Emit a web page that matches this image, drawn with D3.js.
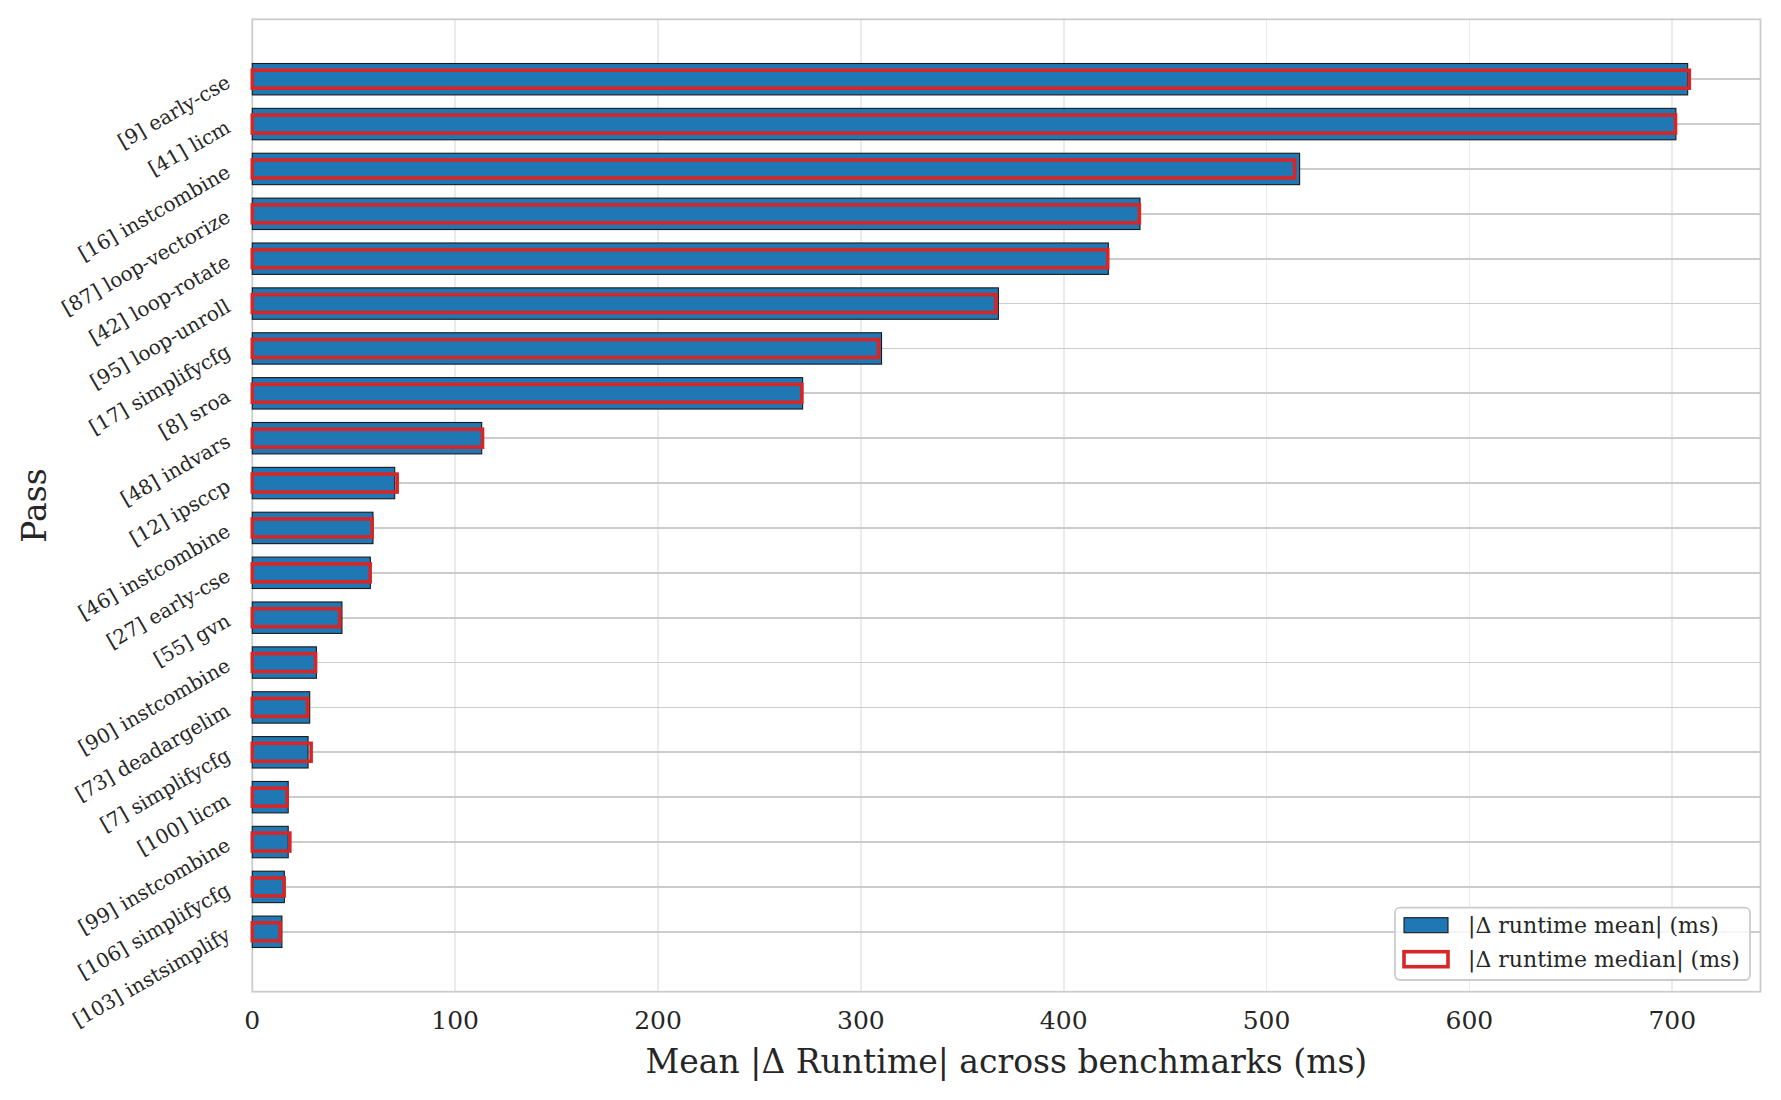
<!DOCTYPE html>
<html>
<head>
<meta charset="utf-8">
<script src="https://cdn.jsdelivr.net/npm/d3@7"></script>
<style>
  body { margin: 0; background: #fff; }
  svg { display: block; font-family: "DejaVu Serif", serif; }
  .grid line { shape-rendering: crispEdges; }
  text { fill: #262626; }
</style>
</head>
<body>
<svg width="1781" height="1100"></svg>
<script>
var passes = ["[9] early-cse", "[41] licm", "[16] instcombine", "[87] loop-vectorize", "[42] loop-rotate",
    "[95] loop-unroll", "[17] simplifycfg", "[8] sroa", "[48] indvars", "[12] ipsccp",
    "[46] instcombine", "[27] early-cse", "[55] gvn", "[90] instcombine", "[73] deadargelim",
    "[7] simplifycfg", "[100] licm", "[99] instcombine", "[106] simplifycfg", "[103] instsimplify"];
var meanMs = [707.6, 701.8, 516.3, 437.6, 422.0, 367.8, 310.2, 271.3, 113.1, 70.2,
    59.5, 58.2, 44.2, 31.6, 28.3, 27.5, 17.7, 17.7, 15.8, 14.6];
var medianMs = [708.4, 701.6, 513.8, 437.3, 421.7, 366.5, 308.7, 270.9, 113.5, 71.4,
    59.1, 58.1, 43.1, 31.2, 27.2, 29.0, 17.2, 18.5, 15.7, 13.7];
var xTicks = [0, 100, 200, 300, 400, 500, 600, 700];
var legendLabels = ["|\u0394 runtime mean| (ms)", "|\u0394 runtime median| (ms)"];

var BLUE = "#1f77b4", RED = "#d62728";

(function() {
    var canvas = getCanvas();
    var axes = getAxes(canvas);
    addGrid(canvas, axes);
    addBars(canvas, axes);
    addAxisText(canvas, axes);
    addLegend(canvas);
})();

function getCanvas() {
    var margin = {top: 19.3, right: 20.5, bottom: 108.3, left: 252.3};
    var svg = d3.select("svg");
    var g = svg.append("g").attr("transform", "translate(" + margin.left + "," + margin.top + ")");
    g.width = 1781 - margin.left - margin.right;
    g.height = 1100 - margin.top - margin.bottom;
    return g;
}

function getAxes(canvas) {
    return {
        x: d3.scaleLinear().domain([0, 743.5]).range([0, canvas.width]),
        y: d3.scaleBand().domain(passes).range([0, canvas.height]).paddingInner(0.3).paddingOuter(0.985)
    };
}

function addGrid(canvas, axes) {
    canvas.append("g").attr("class", "grid")
        .selectAll("line").data(xTicks.slice(1)).enter().append("line")
        .attr("x1", function(d) { return axes.x(d); }).attr("x2", function(d) { return axes.x(d); })
        .attr("y1", 0).attr("y2", canvas.height)
        .style("stroke", "#ebebeb").style("stroke-width", 1.6);

    canvas.append("g").attr("class", "grid")
        .selectAll("line").data(passes).enter().append("line")
        .attr("x1", 0).attr("x2", canvas.width)
        .attr("y1", function(d) { return axes.y(d) + axes.y.bandwidth() / 2; })
        .attr("y2", function(d) { return axes.y(d) + axes.y.bandwidth() / 2; })
        .style("stroke", "#cccccc").style("stroke-width", 1.8);

    canvas.append("rect")
        .attr("x", 0).attr("y", 0).attr("width", canvas.width).attr("height", canvas.height)
        .style("fill", "none").style("stroke", "#cccccc").style("stroke-width", 1.8);
}

function addBars(canvas, axes) {
    var step = axes.y.step();
    var redH = step * 0.4;
    var bw = axes.y.bandwidth();

    canvas.append("g").selectAll("rect").data(passes).enter().append("rect")
        .attr("x", axes.x(0))
        .attr("y", function(d) { return axes.y(d); })
        .attr("width", function(d, i) { return axes.x(meanMs[i]) - axes.x(0); })
        .attr("height", bw)
        .style("fill", BLUE).style("stroke", "#1a1a1a").style("stroke-width", 1.1);

    canvas.append("g").selectAll("rect").data(passes).enter().append("rect")
        .attr("x", axes.x(0))
        .attr("y", function(d) { return axes.y(d) + bw / 2 - redH / 2; })
        .attr("width", function(d, i) { return axes.x(medianMs[i]) - axes.x(0); })
        .attr("height", redH)
        .style("fill", "none").style("stroke", RED).style("stroke-width", 3.6);
}

function addAxisText(canvas, axes) {
    canvas.append("g").selectAll("text").data(xTicks).enter().append("text")
        .attr("x", function(d) { return axes.x(d); })
        .attr("y", canvas.height + 37)
        .style("text-anchor", "middle")
        .style("font-size", "25px")
        .text(function(d) { return d; });

    canvas.append("g").selectAll("text").data(passes).enter().append("text")
        .attr("transform", function(d) {
            return "translate(-24," + (axes.y(d) + axes.y.bandwidth() / 2 + 1) + ") rotate(-30)";
        })
        .style("text-anchor", "end")
        .style("dominant-baseline", "central")
        .style("font-size", "20px")
        .text(function(d) { return d; });

    canvas.append("text")
        .attr("x", canvas.width / 2)
        .attr("y", canvas.height + 81.5)
        .style("text-anchor", "middle")
        .style("font-size", "33px")
        .text("Mean |\u0394 Runtime| across benchmarks (ms)");

    canvas.append("text")
        .attr("transform", "translate(-206," + (canvas.height / 2) + ") rotate(-90)")
        .style("text-anchor", "middle")
        .style("font-size", "33px")
        .text("Pass");
}

function addLegend(canvas) {
    var lg = canvas.append("g").attr("transform", "translate(" + (1395 - 252.3) + "," + (907.7 - 19.3) + ")");
    lg.append("rect")
        .attr("width", 355).attr("height", 72.3).attr("rx", 5)
        .style("fill", "#fff").style("fill-opacity", 0.8)
        .style("stroke", "#cccccc").style("stroke-width", 1.8);

    var rows = lg.selectAll("g.item").data(legendLabels).enter().append("g").attr("class", "item")
        .attr("transform", function(d, i) { return "translate(0," + (17.5 + i * 34) + ")"; });
    rows.append("rect")
        .attr("x", 9).attr("y", -7.5).attr("width", 44).attr("height", 15)
        .style("fill", function(d, i) { return i === 0 ? BLUE : "none"; })
        .style("stroke", function(d, i) { return i === 0 ? "#1a1a1a" : RED; })
        .style("stroke-width", function(d, i) { return i === 0 ? 1.1 : 3.6; });
    rows.append("text")
        .attr("x", 73).attr("y", 0)
        .style("dominant-baseline", "central")
        .style("font-size", "22px")
        .text(function(d) { return d; });
}
</script>
</body>
</html>
